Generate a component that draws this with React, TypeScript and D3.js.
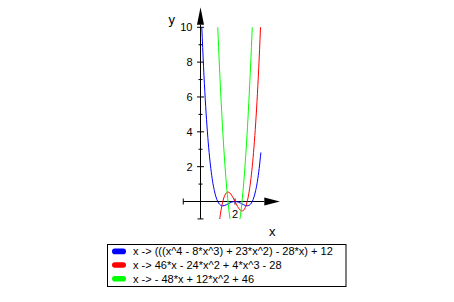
import React from "react";
import * as d3 from "d3";

const xValues = [0, 0.1, 0.2, 0.3, 0.4, 0.5, 0.6, 0.7, 0.8, 0.9, 1, 1.1, 1.2, 1.3, 1.4, 1.5, 1.6, 1.7, 1.8, 1.9, 2, 2.1, 2.2, 2.3, 2.4, 2.5, 2.6, 2.7, 2.8, 2.9, 3, 3.1, 3.2, 3.3, 3.4, 3.5];
const blueValues = [12, 9.4221, 7.2576, 5.4621, 3.9936, 2.8125, 1.8816, 1.1661, 0.6336, 0.2541, 0, -0.1539, -0.2304, -0.2499, -0.2304, -0.1875, -0.1344, -0.0819, -0.0384, -0.0099, 0, -0.0099, -0.0384, -0.0819, -0.1344, -0.1875, -0.2304, -0.2499, -0.2304, -0.1539, 0, 0.2541, 0.6336, 1.1661, 1.8816, 2.8125];
const redValues = [-28, -23.636, -19.728, -16.252, -13.184, -10.5, -8.176, -6.188, -4.512, -3.124, -2, -1.116, -0.448, 0.028, 0.336, 0.5, 0.544, 0.492, 0.368, 0.196, 0, -0.196, -0.368, -0.492, -0.544, -0.5, -0.336, -0.028, 0.448, 1.116, 2, 3.124, 4.512, 6.188, 8.176, 10.5];
const greenValues = [46, 41.32, 36.88, 32.68, 28.72, 25, 21.52, 18.28, 15.28, 12.52, 10, 7.72, 5.68, 3.88, 2.32, 1, -0.08, -0.92, -1.52, -1.88, -2, -1.88, -1.52, -0.92, -0.08, 1, 2.32, 3.88, 5.68, 7.72, 10, 12.52, 15.28, 18.28, 21.52, 25];

const yMajorTicks = [2, 4, 6, 8, 10];
const yMinorTicks = [1, 3, 5, 7, 9];
const xMajorTicks = [2];
const xView = [-1, 4.6];
const yView = [-1, 10];
const yAxisTop = 11.15;
const xArrowBase = 3.7;
const yArrowBase = 10.15;

const legendLabels = [
  "x -> (((x^4 - 8*x^3) + 23*x^2) - 28*x) + 12",
  "x -> 46*x - 24*x^2 + 4*x^3 - 28",
  "x -> - 48*x + 12*x^2 + 46",
];
const colors = ["#0000ff", "#ff0000", "#00ff00"];
const seriesList = [blueValues, redValues, greenValues];

export default function App() {
  const x = d3.scaleLinear().domain([0, 2]).range([200.5, 235]);
  const y = d3.scaleLinear().domain([0, 10]).range([201.5, 27.3]);
  const x0 = x(0);
  const y0 = y(0);

  const line = (vals: number[]) =>
    d3
      .line<number>()
      .x((_, i) => x(xValues[i]))
      .y((d) => y(d))
      .curve(d3.curveMonotoneX)(vals) || "";

  const font = "'Liberation Sans', Arial, sans-serif";
  const xTip = x(xView[1]);
  const xBase = x(xArrowBase);
  const yTip = y(yAxisTop);
  const yBase = y(yArrowBase);

  const legX = 107.5;
  const legY = 244.5;
  const legW = 238.5;
  const legH = 42;
  const rowY = [251.4, 265.0, 278.7];

  return (
    <svg
      width={454}
      height={302}
      style={{ position: "absolute", left: 0, top: 0, background: "#fff" }}
      fontFamily={font}
    >
      <defs>
        <clipPath id="plotclip">
          <rect x={0} y={y(yView[1])} width={454} height={y(yView[0]) - y(yView[1])} />
        </clipPath>
      </defs>
      {/* axes */}
      <g stroke="#000" strokeWidth={1} fill="none">
        <line x1={x(xView[0])} y1={y0} x2={xBase} y2={y0} />
        <line x1={x0} y1={y(yView[0])} x2={x0} y2={yBase} />
        <line x1={x(xView[0])} y1={y0 - 3} x2={x(xView[0])} y2={y0 + 3} />
        <line x1={x0 - 3} y1={y(yView[0])} x2={x0 + 3} y2={y(yView[0])} />
        {yMajorTicks.map((t) => (
          <line key={"ym" + t} x1={x0 - 3.5} y1={y(t)} x2={x0 + 3.5} y2={y(t)} />
        ))}
        {yMinorTicks.map((t) => (
          <line key={"yn" + t} x1={x0 - 2} y1={y(t)} x2={x0 + 2} y2={y(t)} />
        ))}
        {xMajorTicks.map((t) => (
          <line key={"xm" + t} x1={x(t)} y1={y0 - 3} x2={x(t)} y2={y0 + 3} />
        ))}
      </g>
      <path d={`M${xBase},${y0 - 4}L${xTip},${y0}L${xBase},${y0 + 4}Z`} fill="#000" />
      <path d={`M${x0 - 3.5},${yBase}L${x0},${yTip}L${x0 + 3.5},${yBase}Z`} fill="#000" />
      {/* tick labels */}
      <g fontSize={11} fill="#000">
        {yMajorTicks.map((t) => (
          <text key={"yl" + t} x={x0 - 8} y={y(t) + 4} textAnchor="end">
            {t}
          </text>
        ))}
        {xMajorTicks.map((t) => (
          <text key={"xl" + t} x={x(t)} y={y0 + 16.5} textAnchor="middle">
            {t}
          </text>
        ))}
      </g>
      <text x={168.5} y={23.5} fontSize={13}>y</text>
      <text x={269} y={236} fontSize={13}>x</text>
      {/* curves */}
      <g clipPath="url(#plotclip)" fill="none" strokeWidth={1}>
        {seriesList.map((s, i) => (
          <path key={i} d={line(s)} stroke={colors[i]} />
        ))}
      </g>
      {/* legend */}
      <rect x={legX} y={legY} width={legW} height={legH} fill="#fff" stroke="#000" strokeWidth={1} />
      {legendLabels.map((lab, i) => (
        <g key={lab}>
          <rect x={112} y={rowY[i] - 2.8} width={14} height={5.6} rx={2.8} fill={colors[i]} />
          <text x={133} y={rowY[i] + 4} fontSize={11} fill="#000">
            {lab}
          </text>
        </g>
      ))}
    </svg>
  );
}
